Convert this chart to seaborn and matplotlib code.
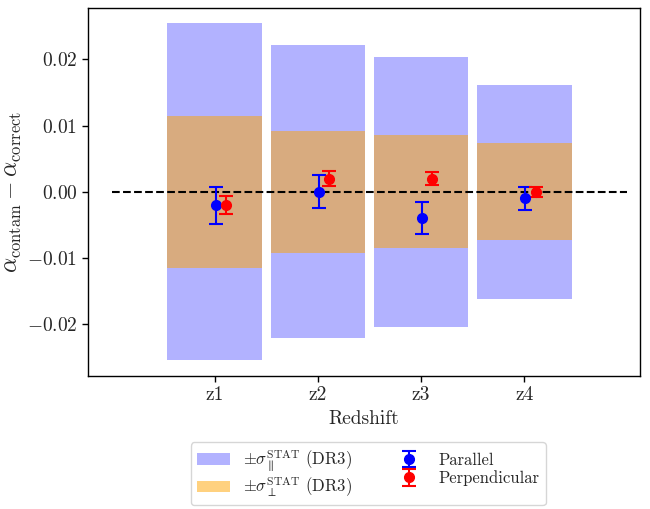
import numpy as np
import pandas as pd
import matplotlib
matplotlib.use("Agg")
import matplotlib.pyplot as plt
from matplotlib.patches import Patch
import seaborn as sns

# Redshift bins
bins = ["z1", "z2", "z3", "z4"]

# DR3 statistical uncertainties (half-widths of the shaded bands)
sigma_par = [0.0254, 0.0221, 0.0204, 0.0161]
sigma_perp = [0.0115, 0.0092, 0.0085, 0.0073]

# Shift in the BAO scaling parameters due to contamination
alpha_par = [-0.002, 0.0000, -0.0040, -0.0010]
alpha_par_err = [0.0028, 0.0025, 0.0024, 0.0017]
alpha_perp = [-0.002, 0.0020, 0.0020, 0.0000]
alpha_perp_err = [0.0013, 0.0011, 0.0010, 0.0008]

sns.set_theme(style="ticks")
plt.rcParams["font.family"] = ["cmr10", "DejaVu Serif"]
plt.rcParams["mathtext.fontset"] = "cm"
plt.rcParams["axes.formatter.use_mathtext"] = True
plt.rcParams["axes.unicode_minus"] = True

fig = plt.figure(figsize=(6.5, 5.09), dpi=100)
ax = fig.add_axes([0.135, 0.261, 0.85, 0.723])

df = pd.DataFrame({"bin": bins, "sp": sigma_par, "sq": sigma_perp})
df["msp"] = -df["sp"]
df["msq"] = -df["sq"]

bar_w = 0.92
for col in ["sp", "msp"]:
    sns.barplot(data=df, x="bin", y=col, color="blue", alpha=0.3,
                width=bar_w, linewidth=0, saturation=1, ax=ax)
for col in ["sq", "msq"]:
    sns.barplot(data=df, x="bin", y=col, color="orange", alpha=0.5,
                width=bar_w, linewidth=0, saturation=1, ax=ax)

pos = np.arange(len(bins))
ax.plot([-1, 4], [0, 0], ls="--", color="black", lw=1.5, zorder=3)

h_par = ax.errorbar(pos + 0.01, alpha_par, yerr=alpha_par_err, fmt="o",
                    color="blue", ms=7, capsize=5, elinewidth=1.5,
                    capthick=1.5, zorder=4)
h_perp = ax.errorbar(pos + 0.11, alpha_perp, yerr=alpha_perp_err, fmt="o",
                     color="red", ms=7, capsize=5, elinewidth=1.5,
                     capthick=1.5, zorder=4)

ax.set_xlim(-1.233, 4.126)
ax.set_ylim(-0.0278, 0.0277)
ax.set_yticks([-0.02, -0.01, 0.0, 0.01, 0.02])
ax.set_yticklabels([r"$-0.02$", r"$-0.01$", r"$0.00$", r"$0.01$", r"$0.02$"])
ax.set_xticks(pos)
ax.set_xticklabels(bins)
ax.tick_params(labelsize=14, width=1, length=4, color="black")
for s in ax.spines.values():
    s.set_color("black")
    s.set_linewidth(1)
ax.set_xlabel("Redshift", fontsize=14)
ax.set_ylabel(r"$\alpha_{\rm contam} - \alpha_{\rm correct}$", fontsize=17,
              labelpad=2)

handles = [
    Patch(facecolor="blue", alpha=0.3, edgecolor="none"),
    Patch(facecolor="orange", alpha=0.5, edgecolor="none"),
    h_par, h_perp,
]
labels = [
    r"$\pm\sigma_{\parallel}^{\rm STAT}$ (DR3)",
    r"$\pm\sigma_{\perp}^{\rm STAT}$ (DR3)",
    "Parallel", "Perpendicular",
]
fig.legend(handles, labels, loc="lower center", bbox_to_anchor=(0.5665, 0.008),
           ncol=2, fontsize=12, frameon=True, columnspacing=2.4,
           handlelength=2.0, borderpad=0.35, labelspacing=0.15,
           borderaxespad=0.0)

fig.savefig("out.png", dpi=100)
